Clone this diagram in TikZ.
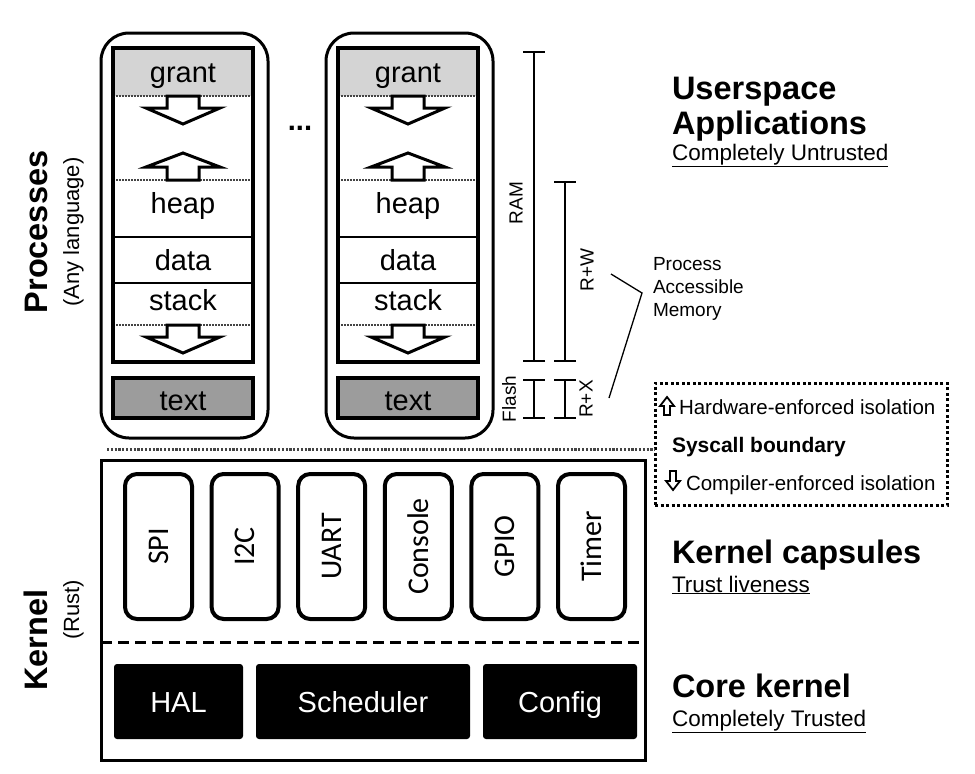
\documentclass[tikz,border=0pt]{standalone}
\usepackage{fontspec}
\setmainfont{Liberation Sans}
\newfontfamily\capfont{Carlito}
\usetikzlibrary{arrows.meta}
\definecolor{grantgray}{HTML}{D4D4D4}
\definecolor{textgray}{HTML}{9C9C9C}
\definecolor{dotgray}{HTML}{444444}
\newcommand\fsz[1]{\fontsize{#1}{#1}\selectfont}
\begin{document}
\begin{tikzpicture}[x=1pt,y=-1pt,
  every node/.style={inner sep=0pt, outer sep=0pt},
  outerbox/.style={draw, line width=3pt, rounded corners=28pt, anchor=north west, minimum width=167pt, minimum height=405pt},
  memcell/.style={anchor=north west, minimum width=140pt},
  dotsep/.style={draw=dotgray, line width=1.6pt, dash pattern=on 1.6pt off 1.4pt},
  thinsep/.style={draw=black, line width=1.4pt},
  blockarrow/.style={draw, fill=white, line width=3pt, line join=miter},
  memtext/.style={anchor=base, font=\fsz{29}},
  memrange/.style={line width=2pt, {Bar[width=22pt]}-{Bar[width=22pt]}},
  rangelab/.style={rotate=90, font=\fsz{19}},
  headtxt/.style={anchor=base west, font=\fsz{32.5}\bfseries},
  subtxt/.style={anchor=base west, font=\fsz{22.5}},
  sidehead/.style={rotate=90, anchor=base, font=\fsz{32.5}\bfseries},
  sidesub/.style={rotate=90, anchor=base, font=\fsz{22}},
  capsulebox/.style={draw, line width=4pt, rounded corners=12pt, anchor=north west, minimum width=67pt, minimum height=145pt},
  caplab/.style={rotate=90, font=\capfont\fsz{30}},
  corebox/.style={fill=black, rounded corners=3pt, anchor=north west, minimum height=75pt, text=white, font=\fsz{29}, text height=21pt, text depth=0pt},
  boxtext/.style={anchor=base west, font=\fsz{20.5}},
  smallarrow/.style={draw, fill=white, line width=1.8pt, line join=miter}
]
\useasboundingbox (0,0) rectangle (975,774);

% ---------- processes ----------
\foreach \i/\dx in {1/0,2/225}{
\begin{scope}[xshift=\dx pt]
  \node[outerbox] (p\i) at (101,33) {};
  \node[memcell, fill=grantgray, minimum height=48pt] (p\i-grant) at (113,48) {};
  \node[memcell, minimum height=84pt] (p\i-gap) at (113,96) {};
  \node[memcell, minimum height=57pt] (p\i-heap) at (113,180) {};
  \node[memcell, minimum height=46pt] (p\i-data) at (113,237) {};
  \node[memcell, minimum height=42pt] (p\i-stack) at (113,283) {};
  \node[memcell, minimum height=37pt] (p\i-sgap) at (113,325) {};
  \draw[dotsep] (p\i-grant.south west) -- (p\i-grant.south east);
  \draw[dotsep] (p\i-heap.north west) -- (p\i-heap.north east);
  \draw[thinsep] (p\i-data.north west) -- (p\i-data.north east);
  \draw[thinsep] (p\i-stack.north west) -- (p\i-stack.north east);
  \draw[dotsep] (p\i-sgap.north west) -- (p\i-sgap.north east);
  \draw[blockarrow] (167,96) -- (167,108) -- (146,108) -- (183,124) -- (220,108) -- (199,108) -- (199,96) -- cycle;
  \draw[blockarrow] (167,180) -- (167,167) -- (146,167) -- (183,153) -- (220,167) -- (199,167) -- (199,180) -- cycle;
  \draw[blockarrow] (167,325) -- (167,337) -- (146,337) -- (183,353) -- (220,337) -- (199,337) -- (199,325) -- cycle;
  \node[memtext] (p\i-grant-l) at (183,82) {grant};
  \node[memtext] (p\i-heap-l) at (183,213) {heap};
  \node[memtext] (p\i-data-l) at (183,270) {data};
  \node[memtext] (p\i-stack-l) at (183,310) {stack};
  \node[memcell, draw, line width=4pt, minimum height=314pt] (p\i-mem) at (113,48) {};
  \node[memcell, draw, line width=3.5pt, fill=textgray, minimum height=40pt] (p\i-text) at (113,378) {};
  \node[memtext] (p\i-text-l) at (183,410) {text};
\end{scope}}
\node[anchor=base, font=\fsz{29}\bfseries] (dots) at (300,130) {...};

% ---------- memory ranges ----------
\coordinate (ram-t) at (534,51);
\coordinate (ram-b) at (534,362);
\coordinate (rw-t) at (565,181);
\coordinate (rw-b) at (565,362);
\coordinate (fl-t) at (534,379);
\coordinate (fl-b) at (534,419);
\coordinate (rx-t) at (565,379);
\coordinate (rx-b) at (565,419);
\draw[memrange] (ram-t) -- (ram-b);
\draw[memrange] (rw-t) -- (rw-b);
\draw[memrange] (fl-t) -- (fl-b);
\draw[memrange] (rx-t) -- (rx-b);
\node[rangelab] (ram-l) at (516,203) {RAM};
\node[rangelab] (rw-l) at (587,270) {R+W};
\node[rangelab] (fl-l) at (509,399) {Flash};
\node[rangelab] (rx-l) at (586,399) {R+X};
\node[anchor=north west, align=left, font=\fontsize{19}{23}\selectfont] (pam) at (653,257.5) {Process\\Accessible\\Memory};
\coordinate (bk-a) at (611,274);
\coordinate (bk-m) at (642,293);
\coordinate (bk-b) at (609,398);
\draw[line width=1.3pt] (bk-a) -- (bk-m) -- (bk-b);

% ---------- right headings ----------
\node[headtxt] (us1) at (672,99) {Userspace};
\node[headtxt] (us2) at (672,134) {Applications};
\node[subtxt] (us3) at (672,160) {\underline{Completely Untrusted}};
\node[headtxt] (kc1) at (672,563) {Kernel capsules};
\node[subtxt] (kc2) at (672,592) {\underline{Trust liveness}};
\node[headtxt] (ck1) at (672,697) {Core kernel};
\node[subtxt] (ck2) at (672,726) {\underline{Completely Trusted}};

% ---------- left labels ----------
\node[sidehead] (proc) at (47,232) {Processes};
\node[sidesub] (proc-s) at (79,232) {(Any language)};
\node[sidehead] (kern) at (47,640) {Kernel};
\node[sidesub] (kern-s) at (79,610) {(Rust)};

% ---------- syscall boundary ----------
\node[draw, line width=3pt, dash pattern=on 3pt off 2.5pt, anchor=north west, minimum width=292pt, minimum height=122pt] (sysbox) at (655,383) {};
\coordinate (sys-a) at (107,449);
\draw[dotgray, line width=3pt, dash pattern=on 2.2pt off 1.6pt] (sys-a) -- (sys-a -| sysbox.west);
\draw[smallarrow] (664,415) -- (664,406) -- (660,406) -- (667,397) -- (674,406) -- (670,406) -- (670,415) -- cycle;
\node[boxtext] (hw) at (679,414) {Hardware-enforced isolation};
\node[boxtext, font=\fsz{21}\bfseries] (sc) at (672,452) {Syscall boundary};
\draw[smallarrow] (670,471) -- (670,481) -- (666,481) -- (673,490) -- (680,481) -- (676,481) -- (676,471) -- cycle;
\node[boxtext] (ce) at (686,490) {Compiler-enforced isolation};

% ---------- kernel ----------
\node[draw, line width=3pt, anchor=north west, minimum width=544pt, minimum height=300pt] (kernel) at (101,460) {};
\coordinate (dash-y) at (0,642);
\draw[line width=3pt, dash pattern=on 11pt off 6pt] (kernel.west |- dash-y) -- (kernel.east |- dash-y);
\foreach \n/\t/\x in {spi/SPI/125, i2c/I2C/211.6, uart/UART/298.2, console/Console/384.8, gpio/GPIO/471.4, timer/Timer/558}{
  \node[capsulebox] (\n) at (\x,474) {};
  \node[caplab] (\n-l) at (\n.center) {\t};
}
\node[corebox, minimum width=129pt] (hal) at (114,664) {HAL};
\node[corebox, minimum width=214pt] (sched) at (256,664) {Scheduler};
\node[corebox, minimum width=154pt] (config) at (483,664) {Config};
\end{tikzpicture}
\end{document}
